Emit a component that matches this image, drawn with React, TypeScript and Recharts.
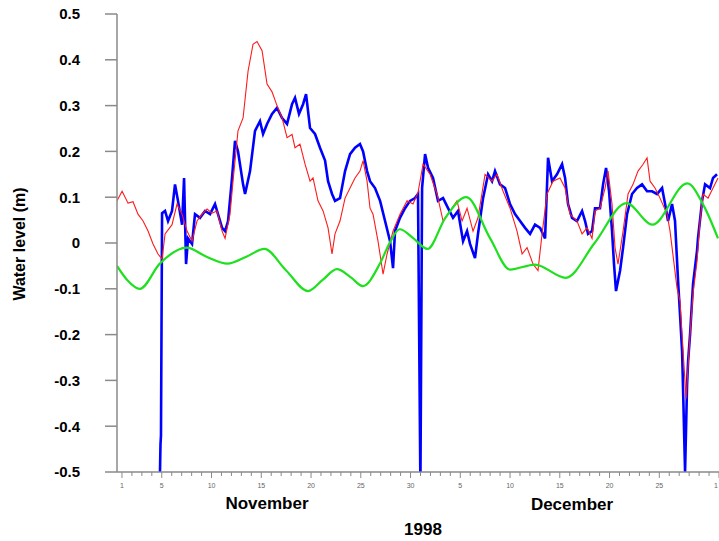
import React from "react"
import { LineChart, Line, XAxis, YAxis } from "recharts"

// day = days since 31 Oct 1998 (Nov 1 = 1, Dec 1 = 31)
const redGauge: [number, number][] = [
  [0.5, 0.092], [1.01, 0.113], [1.61, 0.087], [2.11, 0.09], [2.61, 0.063], [3.12, 0.048],
  [3.62, 0.026], [4.12, -0.002], [4.62, -0.024], [5.03, -0.035], [5.33, 0.02], [6.03, 0.04],
  [6.53, 0.085], [7.04, 0.063], [7.54, 0.026], [8.04, 0.004], [8.54, 0.048], [9.05, 0.063],
  [9.55, 0.074], [10.05, 0.065], [10.55, 0.07], [11.06, 0.026], [11.36, 0.01], [11.86, 0.063],
  [12.16, 0.135], [12.66, 0.245], [13.17, 0.273], [13.67, 0.375], [14.17, 0.434], [14.57, 0.44],
  [15.08, 0.42], [15.58, 0.347], [16.08, 0.33], [16.58, 0.3], [17.09, 0.273], [17.59, 0.23],
  [18.09, 0.237], [18.39, 0.208], [18.89, 0.216], [19.4, 0.172], [19.9, 0.135], [20.2, 0.142],
  [20.7, 0.092], [21.21, 0.07], [21.71, 0.033], [22.11, -0.024], [22.41, 0.02], [22.91, 0.048],
  [23.42, 0.098], [23.92, 0.12], [24.42, 0.142], [24.92, 0.157], [25.23, 0.18], [25.63, 0.135],
  [25.93, 0.076], [26.23, 0.063], [26.73, 0.004], [27.24, -0.068], [27.64, -0.024], [28.24, 0.026],
  [28.94, 0.063], [29.65, 0.092], [30.25, 0.085], [30.75, 0.11], [31.26, 0.172], [31.96, 0.15],
  [32.66, 0.107], [33.27, 0.048], [33.97, 0.07], [34.67, 0.092], [35.18, 0.048], [35.68, 0.076],
  [36.28, 0.026], [36.78, 0.055], [37.49, 0.15], [38.19, 0.135], [38.69, 0.15], [39.3, 0.113],
  [40.0, 0.076], [40.7, 0.026], [41.21, -0.024], [41.71, -0.01], [42.31, -0.046], [42.81, -0.06],
  [43.22, 0.02], [43.72, 0.107], [44.32, 0.135], [45.02, 0.142], [45.53, 0.12], [46.03, 0.063],
  [46.73, 0.048], [47.24, 0.02], [47.74, 0.033], [48.24, 0.01], [48.54, 0.07], [49.04, 0.076],
  [49.55, 0.12], [49.85, 0.157], [50.25, 0.085], [50.55, -0.01], [50.85, -0.046], [51.36, 0.026],
  [51.86, 0.107], [52.36, 0.128], [52.86, 0.157], [53.37, 0.172], [53.77, 0.186], [54.07, 0.135],
  [54.57, 0.12], [55.07, 0.098], [55.78, 0.063], [56.08, 0.026], [56.78, -0.098], [57.08, -0.127],
  [57.39, -0.236], [57.69, -0.34], [58.09, -0.2], [58.39, -0.11], [58.79, -0.04], [59.09, 0.048],
  [59.39, 0.107], [59.9, 0.098], [60.4, 0.12], [60.9, 0.142],
]

const blueGauge: [number, number][] = [
  [4.82, -0.5], [4.87, -0.44], [4.92, -0.42], [5.03, 0.065], [5.33, 0.07], [5.63, 0.048],
  [6.03, 0.07], [6.33, 0.128], [6.63, 0.092], [7.04, 0.04], [7.24, 0.142], [7.44, -0.046],
  [7.64, 0.01], [8.04, -0.002], [8.34, 0.063], [8.84, 0.055], [9.35, 0.07], [9.85, 0.063],
  [10.35, 0.085], [10.65, 0.063], [11.06, 0.033], [11.36, 0.026], [11.66, 0.048], [12.06, 0.142],
  [12.36, 0.223], [12.66, 0.2], [13.17, 0.128], [13.37, 0.107], [13.87, 0.157], [14.37, 0.245],
  [14.87, 0.266], [15.18, 0.238], [15.58, 0.26], [16.08, 0.282], [16.58, 0.295], [17.09, 0.273],
  [17.59, 0.26], [18.09, 0.303], [18.39, 0.317], [18.79, 0.282], [19.2, 0.303], [19.5, 0.325],
  [19.9, 0.251], [20.4, 0.238], [20.9, 0.208], [21.41, 0.18], [21.71, 0.135], [22.11, 0.107],
  [22.41, 0.092], [22.91, 0.098], [23.42, 0.157], [23.92, 0.194], [24.42, 0.208], [24.92, 0.216],
  [25.23, 0.2], [25.63, 0.157], [25.93, 0.135], [26.43, 0.12], [26.94, 0.092], [27.44, 0.048],
  [27.94, 0.004], [28.24, -0.055], [28.44, 0.026], [28.94, 0.055], [29.45, 0.076], [29.95, 0.092],
  [30.45, 0.098], [30.75, 0.107], [30.98, -0.5], [31.0, -0.5], [31.16, 0.12], [31.46, 0.194],
  [31.76, 0.164], [32.26, 0.142], [32.76, 0.092], [33.27, 0.098], [33.77, 0.076], [34.27, 0.055],
  [34.77, 0.07], [35.28, 0.004], [35.68, 0.026], [35.98, -0.002], [36.48, -0.033], [36.78, 0.02],
  [37.29, 0.098], [37.79, 0.15], [38.19, 0.135], [38.49, 0.157], [38.99, 0.128], [39.5, 0.12],
  [40.0, 0.085], [40.5, 0.063], [41.01, 0.048], [41.51, 0.033], [42.01, 0.02], [42.51, 0.04],
  [43.02, 0.033], [43.52, 0.01], [43.82, 0.186], [44.22, 0.135], [44.72, 0.15], [45.23, 0.172],
  [45.53, 0.142], [45.83, 0.085], [46.23, 0.055], [46.73, 0.048], [47.24, 0.07], [47.54, 0.048],
  [47.84, 0.02], [48.24, 0.026], [48.54, 0.076], [49.04, 0.076], [49.35, 0.128], [49.65, 0.164],
  [49.95, 0.113], [50.25, 0.026], [50.45, -0.046], [50.65, -0.105], [51.06, -0.06], [51.36, -0.01],
  [51.76, 0.063], [52.26, 0.107], [52.76, 0.12], [53.27, 0.128], [53.77, 0.113], [54.27, 0.113],
  [54.77, 0.107], [55.28, 0.12], [55.58, 0.085], [55.88, 0.048], [56.28, 0.085], [56.58, 0.048],
  [56.88, -0.08], [57.08, -0.155], [57.29, -0.236], [57.39, -0.32], [57.59, -0.5], [57.79, -0.31],
  [57.89, -0.26], [58.09, -0.2], [58.39, -0.09], [58.79, -0.017], [58.89, 0.01], [59.3, 0.092],
  [59.6, 0.128], [60.1, 0.12], [60.4, 0.142], [60.8, 0.15],
]

const tideModel: [number, number][] = [
  [0.5, -0.05], [1.5, -0.08], [2.8, -0.1], [4.8, -0.045], [7.5, -0.01], [9.5, -0.03],
  [11.6, -0.045], [13.5, -0.03], [15.3, -0.013], [17.5, -0.06], [19.7, -0.105], [21.2, -0.08],
  [22.6, -0.057], [24, -0.075], [25.2, -0.094], [26.9, -0.046], [27.9, 0.0], [28.9, 0.03],
  [30.3, 0.01], [31.7, -0.013], [33.5, 0.055], [35.6, 0.1], [38, 0.01], [40, -0.058],
  [42.5, -0.047], [45.6, -0.076], [48.5, 0.0], [51.7, 0.087], [54.3, 0.04], [57.8, 0.13],
  [59.5, 0.08], [60.9, 0.01],
]

const yTicks = [-0.5, -0.4, -0.3, -0.2, -0.1, 0, 0.1, 0.2, 0.3, 0.4, 0.5]
const dayTicks = Array.from({ length: 61 }, (_, i) => i + 1)
const dayLabels: Record<number, string> = {
  1: "1", 5: "5", 10: "10", 15: "15", 20: "20", 25: "25", 30: "30",
  35: "5", 40: "10", 45: "15", 50: "20", 55: "25", 61: "1",
}

const toRows = (pts: [number, number][]) => pts.map(([day, level]) => ({ day, level }))

const FONT = "'Liberation Sans', Arial, Helvetica, sans-serif"
const AXIS = "#8a8a8a"

function DayTick({ x, y, payload }: any) {
  const label = dayLabels[payload.value]
  const last = payload.value === 61
  return (
    <g>
      <line x1={x} y1={y} x2={x} y2={y + (label ? 6 : 4)} stroke={AXIS} strokeWidth={1} />
      {label && (
        <text x={last ? x - 1 : x} y={y + 16} textAnchor={last ? "end" : "middle"} fontSize={7} fill="#666" fontFamily={FONT}>
          {label}
        </text>
      )}
    </g>
  )
}

export default function App() {
  return (
    <div style={{ position: "fixed", left: 0, top: 0, width: 719, height: 541, overflow: "hidden", background: "#fff", fontFamily: FONT }}>
      <LineChart width={719} height={541} margin={{ top: 14, right: 0, bottom: 0, left: 0 }}>
        <XAxis
          type="number"
          dataKey="day"
          domain={[0.5, 61]}
          ticks={dayTicks}
          interval={0}
          tick={<DayTick />}
          tickLine={false}
          tickSize={0}
          tickMargin={0}
          axisLine={{ stroke: AXIS, strokeWidth: 1.5 }}
          height={69}
          allowDataOverflow
        />
        <YAxis
          type="number"
          domain={[-0.5, 0.5]}
          ticks={yTicks}
          interval={0}
          width={117}
          tickSize={12}
          tickMargin={25}
          tickLine={{ stroke: AXIS, strokeWidth: 1.5 }}
          axisLine={{ stroke: AXIS, strokeWidth: 1.5 }}
          tick={{ fill: "#000", fontSize: 15, fontWeight: "bold", fontFamily: FONT }}
          tickFormatter={(v: number) => (v === 0 ? "0" : v.toFixed(1))}
          allowDataOverflow
        />
        <Line data={toRows(blueGauge)} dataKey="level" type="linear" stroke="#0000ff" strokeWidth={2.6} dot={false} isAnimationActive={false} />
        <Line data={toRows(redGauge)} dataKey="level" type="linear" stroke="#ff1a1a" strokeWidth={1.1} dot={false} isAnimationActive={false} />
        <Line data={toRows(tideModel)} dataKey="level" type="monotone" stroke="#1ee01e" strokeWidth={2.2} dot={false} isAnimationActive={false} />
      </LineChart>
      <div style={{ position: "absolute", left: 20, top: 244, transform: "translate(-50%, -50%) rotate(-90deg)", whiteSpace: "nowrap", fontWeight: "bold", fontSize: 16 }}>
        Water level (m)
      </div>
      <div style={{ position: "absolute", left: 267, top: 504, transform: "translate(-50%, -50%)", fontWeight: "bold", fontSize: 17 }}>
        November
      </div>
      <div style={{ position: "absolute", left: 572, top: 505, transform: "translate(-50%, -50%)", fontWeight: "bold", fontSize: 17 }}>
        December
      </div>
      <div style={{ position: "absolute", left: 423, top: 530, transform: "translate(-50%, -50%)", fontWeight: "bold", fontSize: 17 }}>
        1998
      </div>
    </div>
  )
}
